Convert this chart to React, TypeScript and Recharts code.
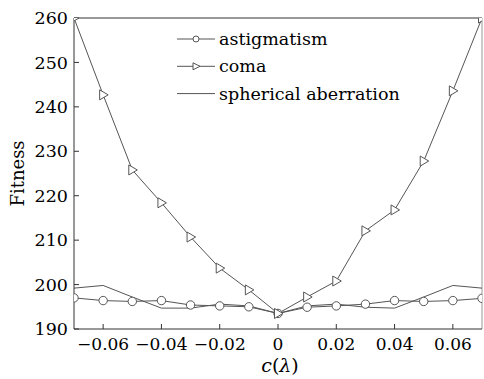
import { LineChart, Line, XAxis, YAxis, ReferenceLine } from 'recharts';

// c(λ) sample positions
const cValues = [-0.07, -0.06, -0.05, -0.04, -0.03, -0.02, -0.01, 0, 0.01, 0.02, 0.03, 0.04, 0.05, 0.06, 0.07];

// fitness for each aberration type
const astigmatism = [197.0, 196.4, 196.2, 196.4, 195.4, 195.2, 195.0, 193.5, 194.9, 195.2, 195.6, 196.4, 196.2, 196.4, 196.9];
const coma = [260, 242.7, 225.8, 218.4, 210.7, 203.7, 198.8, 193.5, 197.2, 200.8, 212.1, 216.8, 227.8, 243.6, 260];
const spherical = [199.2, 199.8, 197.2, 194.7, 194.7, 195.6, 195.2, 193.5, 195.2, 195.6, 194.9, 194.7, 197.2, 199.8, 199.2];

const xTicks = [-0.06, -0.04, -0.02, 0, 0.02, 0.04, 0.06];
const yTicks = [190, 200, 210, 220, 230, 240, 250, 260];
const xDomain = [-0.07, 0.07];
const yDomain = [190, 260];

const data = cValues.map((c, i) => ({
  c,
  astigmatism: astigmatism[i],
  coma: coma[i],
  spherical: spherical[i],
}));

const FONT = '"DejaVu Serif", serif';
const LINE = '#555';
const AXIS = '#333';
const TEXT = '#000';

const fmtX = (v: number) => (v === 0 ? '0' : v < 0 ? `\u2212${Math.abs(v).toFixed(2)}` : v.toFixed(2));

const CircleDot = ({ cx, cy }: any) => (
  <circle cx={cx} cy={cy} r={4.2} fill="#fff" stroke={LINE} strokeWidth={1} />
);

const TriangleDot = ({ cx, cy }: any) => (
  <path
    d={`M${cx - 3.5},${cy - 5} L${cx + 5},${cy} L${cx - 3.5},${cy + 5} Z`}
    fill="#fff"
    stroke={LINE}
    strokeWidth={1}
  />
);

const legendItems = [
  { key: 'astigmatism', label: 'astigmatism', marker: 'circle' },
  { key: 'coma', label: 'coma', marker: 'triangle' },
  { key: 'spherical', label: 'spherical aberration', marker: 'none' },
];

// legend drawn as an overlay so it doesn't take space from the plot
const LegendBox = () => (
  <svg width={240} height={80} style={{ position: 'absolute', left: 177, top: 27 }}>
    {legendItems.map((item, i) => {
      const y = 12 + i * 27.3;
      return (
        <g key={item.key}>
          <line x1={0} y1={y} x2={38} y2={y} stroke={LINE} strokeWidth={1} />
          {item.marker === 'circle' && <circle cx={19} cy={y} r={3} fill="#fff" stroke={LINE} />}
          {item.marker === 'triangle' && (
            <path d={`M${16},${y - 3.5} L${23},${y} L${16},${y + 3.5} Z`} fill="#fff" stroke={LINE} />
          )}
          <text x={42} y={y} dominantBaseline="central" fontFamily={FONT} fontSize={17.5} fill={TEXT}>
            {item.label}
          </text>
        </g>
      );
    })}
  </svg>
);

const YLabel = ({ viewBox }: any) => {
  const cy = viewBox.y + viewBox.height / 2;
  return (
    <text
      x={17.5}
      y={cy}
      transform={`rotate(-90 17.5 ${cy})`}
      textAnchor="middle"
      dominantBaseline="central"
      fontFamily={FONT}
      fontSize={18}
      fill={TEXT}
    >
      Fitness
    </text>
  );
};

const XLabel = ({ viewBox }: any) => {
  const cx = viewBox.x + viewBox.width / 2;
  return (
    <text x={cx + 2} y={372} textAnchor="middle" fontFamily={FONT} fontSize={19} fill={TEXT}>
      <tspan fontStyle="italic">c</tspan>
      <tspan>(</tspan>
      <tspan fontStyle="italic">λ</tspan>
      <tspan>)</tspan>
    </text>
  );
};

export default function App() {
  return (
    <div style={{ position: 'absolute', left: 0, top: 0, width: 484, height: 379, background: '#fff' }}>
      <LineChart width={484} height={379} data={data} margin={{ top: 18, right: 2, left: 0, bottom: 0 }}>
        <XAxis
          dataKey="c"
          type="number"
          domain={xDomain}
          ticks={xTicks}
          tickFormatter={fmtX}
          height={50}
          stroke={AXIS}
          tickSize={-5}
          tickMargin={14}
          tick={{ fontFamily: FONT, fontSize: 17, fill: TEXT }}
          label={<XLabel />}
          allowDataOverflow
        />
        <YAxis
          type="number"
          domain={yDomain}
          ticks={yTicks}
          width={74}
          stroke={AXIS}
          tickSize={-5}
          tickMargin={11}
          tick={{ fontFamily: FONT, fontSize: 17.5, fill: TEXT }}
          label={<YLabel />}
          allowDataOverflow
        />
        {/* box frame: top and right edges */}
        <ReferenceLine y={260} stroke={AXIS} strokeWidth={1} />
        <ReferenceLine x={0.07} stroke="#999" strokeWidth={1} />
        <Line
          dataKey="spherical"
          type="linear"
          stroke={LINE}
          strokeWidth={1}
          dot={false}
          isAnimationActive={false}
        />
        <Line
          dataKey="astigmatism"
          type="linear"
          stroke={LINE}
          strokeWidth={1}
          dot={<CircleDot />}
          isAnimationActive={false}
        />
        <Line
          dataKey="coma"
          type="linear"
          stroke={LINE}
          strokeWidth={1}
          dot={<TriangleDot />}
          isAnimationActive={false}
        />
      </LineChart>
      <LegendBox />
    </div>
  );
}
